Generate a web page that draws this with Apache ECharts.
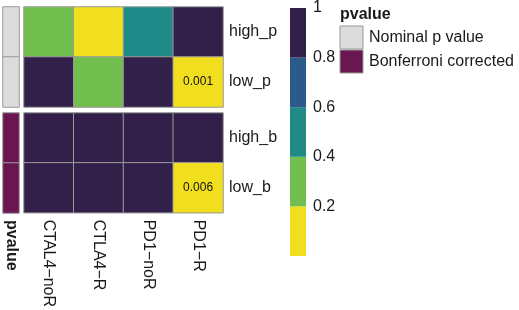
<!DOCTYPE html>
<html>
<head>
<meta charset="utf-8">
<script src="https://cdn.jsdelivr.net/npm/echarts@6/dist/echarts.min.js"></script>
<style>
  html, body { margin: 0; padding: 0; background: #fff; }
  #chart { width: 519px; height: 310px; }
</style>
</head>
<body>
<div id="chart"></div>
<script>
// data
var cols = ['CTAL4\u2212noR', 'CTLA4\u2212R', 'PD1\u2212noR', 'PD1\u2212R'];
var rows_nominal = ['high_p', 'low_p'];
var rows_bonf = ['high_b', 'low_b'];
var high_p = [0.3, 0.1, 0.5, 0.9];
var low_p = [0.9, 0.3, 0.9, 0.001];
var high_b = [1, 1, 1, 1];
var low_b = [1, 1, 1, 0.006];
var anno_names = ['Nominal p value', 'Bonferroni corrected'];
var scale_breaks = [0, 0.2, 0.4, 0.6, 0.8, 1];

var pal = ['#f1df1f', '#72bf4f', '#1f8a87', '#2c5a8a', '#33204a'];
var anno_pal = ['#dcdcdc', '#6a1650'];
var font = 'Liberation Sans';
var txt = '#1a1a1a';

function cells(rowsVals) {
    var out = [];
    rowsVals.forEach(function(vals, r) {
        vals.forEach(function(v, c) {
            var item = {value: [c, r, v]};
            // only the significant ones get a number
            if (v < 0.05) {
                item.label = {show: true, formatter: v.toFixed(3)};
            }
            out.push(item);
        });
    });
    return out;
}

var pieces = [];
for (var i = 0; i < pal.length; i++) {
    pieces.push({gte: scale_breaks[i], lt: scale_breaks[i + 1] + (i == pal.length - 1 ? 0.001 : 0), color: pal[i]});
}

var cellStyle = {borderColor: '#9a9a9a', borderWidth: 1};
var rowLabel = {fontFamily: font, fontSize: 16, color: txt, margin: 6};
var cellLabel = {fontFamily: font, fontSize: 12, color: '#111'};

var option = {
    animation: false,
    grid: [
        {left: 24, top: 7, width: 199, height: 100},
        {left: 24, top: 113, width: 199, height: 100},
        {left: 3, top: 7, width: 16, height: 100},
        {left: 3, top: 113, width: 16, height: 100},
        {left: 290, top: 6, width: 16, height: 250}
    ],
    xAxis: [
        {gridIndex: 0, type: 'category', data: cols, show: false},
        {gridIndex: 1, type: 'category', data: cols, position: 'bottom',
            axisLine: {show: false}, axisTick: {show: false},
            axisLabel: {rotate: -90, fontFamily: font, fontSize: 16, color: txt, margin: 7}},
        {gridIndex: 2, type: 'category', data: ['pvalue'], show: false},
        {gridIndex: 3, type: 'category', data: ['pvalue'], position: 'bottom',
            axisLine: {show: false}, axisTick: {show: false},
            axisLabel: {rotate: -90, fontFamily: font, fontSize: 16, fontWeight: 'bold', color: txt, margin: 7}},
        {gridIndex: 4, type: 'category', data: ['scale'], show: false}
    ],
    yAxis: [
        {gridIndex: 0, type: 'category', data: rows_nominal, inverse: true, position: 'right',
            axisLine: {show: false}, axisTick: {show: false}, axisLabel: rowLabel},
        {gridIndex: 1, type: 'category', data: rows_bonf, inverse: true, position: 'right',
            axisLine: {show: false}, axisTick: {show: false}, axisLabel: rowLabel},
        {gridIndex: 2, type: 'category', data: rows_nominal, inverse: true, show: false},
        {gridIndex: 3, type: 'category', data: rows_bonf, inverse: true, show: false},
        {gridIndex: 4, type: 'value', min: 0, max: 1, interval: 0.2, position: 'right',
            axisLine: {show: false}, axisTick: {show: false}, splitLine: {show: false},
            axisLabel: {fontFamily: font, fontSize: 16, color: txt, margin: 7,
                formatter: function(v) { return v == 0 ? '' : String(v); }}}
    ],
    visualMap: {
        type: 'piecewise',
        show: false,
        dimension: 2,
        seriesIndex: [0, 1],
        pieces: pieces
    },
    series: [
        {type: 'heatmap', xAxisIndex: 0, yAxisIndex: 0, data: cells([high_p, low_p]),
            itemStyle: cellStyle, label: cellLabel},
        {type: 'heatmap', xAxisIndex: 1, yAxisIndex: 1, data: cells([high_b, low_b]),
            itemStyle: cellStyle, label: cellLabel},
        {type: 'heatmap', xAxisIndex: 2, yAxisIndex: 2,
            data: [[0, 0, 0], [0, 1, 0]].map(function(d) { return {value: d, itemStyle: {color: anno_pal[0]}}; }),
            itemStyle: cellStyle},
        {type: 'heatmap', xAxisIndex: 3, yAxisIndex: 3,
            data: [[0, 0, 1], [0, 1, 1]].map(function(d) { return {value: d, itemStyle: {color: anno_pal[1]}}; }),
            itemStyle: cellStyle}
    ],
    graphic: [
        {type: 'text', x: 340, y: 15, style: {text: 'pvalue', fontFamily: font, fontSize: 16, fontWeight: 'bold',
            fill: txt, verticalAlign: 'middle'}}
    ]
};

// colour bar: stacked segments on a value axis
pal.forEach(function(c, i) {
    option.series.push({
        type: 'bar', xAxisIndex: 4, yAxisIndex: 4, stack: 'scale', barWidth: '100%',
        silent: true, itemStyle: {color: c},
        data: [scale_breaks[i + 1] - scale_breaks[i]]
    });
});

// annotation legend
anno_names.forEach(function(name, i) {
    option.graphic.push({type: 'rect', shape: {x: 340, y: 26 + i * 24, width: 23, height: 23},
        style: {fill: anno_pal[i], stroke: '#9a9a9a', lineWidth: 1}});
    option.graphic.push({type: 'text', x: 369, y: 38 + i * 24,
        style: {text: name, fontFamily: font, fontSize: 16, fill: txt, verticalAlign: 'middle'}});
});

var chart = echarts.init(document.getElementById('chart'));
chart.setOption(option);
</script>
</body>
</html>
